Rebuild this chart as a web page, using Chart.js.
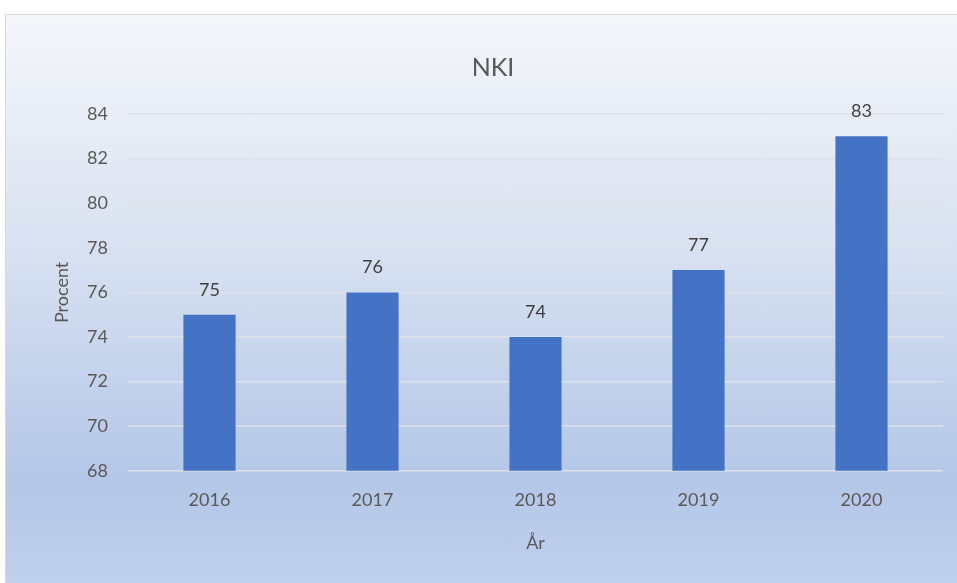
<!DOCTYPE html>
<html>
<head>
<meta charset="utf-8">
<script src="https://cdn.jsdelivr.net/npm/chart.js@4/dist/chart.umd.min.js"></script>
<style>
  html, body { margin: 0; padding: 0; background: #ffffff; }
  #frame {
    position: absolute; left: 5px; top: 14px; width: 952px; height: 569px;
    background: linear-gradient(to bottom, #f4f6fa 0%, #dde5f2 35%, #b4c7e7 82%, #bfd0ec 100%);
    border-top: 1px solid #d9d9d9; border-left: 1px solid #d9d9d9;
    box-sizing: border-box;
  }
  #wrap { position: absolute; left: 0; top: 0; width: 951px; height: 568px; }
</style>
</head>
<body>
<div id="frame"><div id="wrap"><canvas id="c"></canvas></div></div>
<script>
const categories = ['2016', '2017', '2018', '2019', '2020'];
const values = [75, 76, 74, 77, 83];
const yMin = 68, yMax = 84, yStep = 2;
const chartTitle = 'NKI';
const xTitle = 'År';
const yTitle = 'Procent';

const FONT = 'Lato, "Open Sans", sans-serif';
const TXT = '#595959';

const valueLabels = {
  id: 'valueLabels',
  afterDatasetsDraw(chart) {
    const ctx = chart.ctx;
    const meta = chart.getDatasetMeta(0);
    ctx.save();
    ctx.font = '18px ' + FONT;
    ctx.fillStyle = '#404040';
    ctx.textAlign = 'center';
    ctx.textBaseline = 'middle';
    meta.data.forEach((bar, i) => {
      ctx.fillText(String(values[i]), bar.x, bar.y - 25);
    });
    ctx.restore();
  }
};

new Chart(document.getElementById('c'), {
  type: 'bar',
  data: {
    labels: categories,
    datasets: [{
      data: values,
      backgroundColor: '#4472c4',
      borderWidth: 0,
      barPercentage: 0.64,
      categoryPercentage: 0.5
    }]
  },
  options: {
    responsive: true,
    maintainAspectRatio: false,
    animation: false,
    layout: { padding: { left: 37, right: 14, top: 0, bottom: 25 } },
    plugins: {
      legend: { display: false },
      tooltip: { enabled: false },
      title: {
        display: true,
        text: chartTitle,
        color: TXT,
        font: { family: FONT, size: 25, weight: 'normal' },
        padding: { top: 38, bottom: 31 }
      }
    },
    scales: {
      x: {
        grid: { display: false, drawTicks: false },
        border: { display: false },
        ticks: { color: TXT, font: { family: FONT, size: 18 }, padding: 19 },
        title: {
          display: true, text: xTitle, color: TXT,
          font: { family: FONT, size: 18 }, padding: { top: 2 }
        }
      },
      y: {
        min: yMin, max: yMax,
        afterFit(scale) { scale.width = 85; },
        grid: { color: '#dde2ea', lineWidth: 1.5, drawTicks: false },
        border: { display: false },
        ticks: { stepSize: yStep, color: TXT, font: { family: FONT, size: 18 }, padding: 20 },
        title: {
          display: true, text: yTitle, color: TXT,
          font: { family: FONT, size: 18 }, padding: { top: 8, bottom: 11 }
        }
      }
    }
  },
  plugins: [valueLabels]
});
</script>
</body>
</html>
